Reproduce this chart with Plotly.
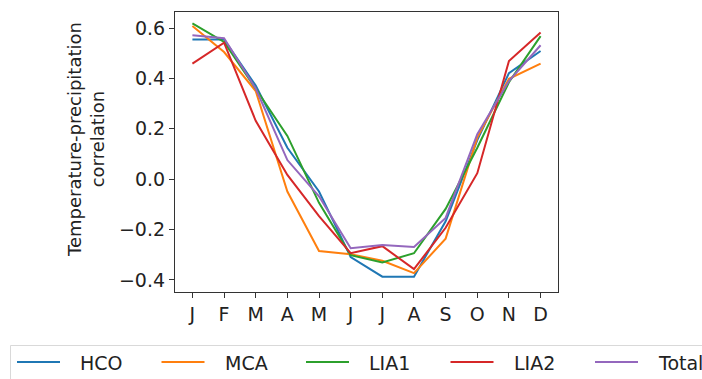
import plotly.graph_objects as go

months = ["J", "F", "M", "A", "M", "J", "J", "A", "S", "O", "N", "D"]
hco = [0.555, 0.555, 0.372, 0.125, -0.049, -0.309, -0.387, -0.387, -0.167, 0.155, 0.421, 0.509]
mca = [0.608, 0.505, 0.350, -0.049, -0.285, -0.298, -0.324, -0.373, -0.236, 0.165, 0.399, 0.459]
lia1 = [0.619, 0.545, 0.359, 0.172, -0.094, -0.302, -0.331, -0.294, -0.118, 0.125, 0.385, 0.568]
lia2 = [0.459, 0.542, 0.232, 0.017, -0.147, -0.294, -0.266, -0.357, -0.193, 0.024, 0.469, 0.583]
total = [0.572, 0.560, 0.360, 0.076, -0.068, -0.274, -0.261, -0.269, -0.154, 0.179, 0.390, 0.532]

series = [("HCO", hco, "#1f77b4"), ("MCA", mca, "#ff7f0e"), ("LIA1", lia1, "#2ca02c"),
          ("LIA2", lia2, "#d62728"), ("Total", total, "#9467bd")]

W, H = 702, 379
ML, MR, MT, MB = 175, 144, 12, 87
PW, PH = W - ML - MR, H - MT - MB


def px_x(p):
    return (p - ML) / PW


def px_y(p):
    return (H - MB - p) / PH


x = list(range(len(months)))
fig = go.Figure()
for name, vals, col in series:
    fig.add_trace(go.Scatter(x=x, y=vals, mode="lines", name=name,
                             line=dict(color=col, width=2), showlegend=False))

axis_common = dict(showline=True, linecolor="#333", linewidth=1.2, mirror=True,
                   ticks="outside", ticklen=5, tickcolor="#333", showgrid=False,
                   zeroline=False, tickfont=dict(size=19, color="#222"))
fig.update_xaxes(range=[-0.55, 11.55], tickvals=x, ticktext=months, **axis_common)
fig.update_yaxes(range=[-0.448, 0.664], tickvals=[-0.4, -0.2, 0.0, 0.2, 0.4, 0.6],
                 tickformat=".1f", **axis_common)

fig.add_annotation(text="Temperature-precipitation<br>correlation", textangle=-90,
                   xref="paper", yref="paper", x=px_x(86), y=px_y(140),
                   xanchor="center", yanchor="middle", showarrow=False,
                   font=dict(size=18, color="#222"))

# legend box (extends past the right/bottom edge like the reference)
fig.add_shape(type="rect", xref="paper", yref="paper",
              x0=px_x(10.5), x1=px_x(720), y0=px_y(345.5), y1=px_y(400),
              line=dict(color="#d9d9d9", width=1), fillcolor="rgba(255,255,255,0.8)",
              layer="above")
legend_step = 144.5
for i, (name, vals, col) in enumerate(series):
    x0 = 17 + i * legend_step
    fig.add_shape(type="line", xref="paper", yref="paper",
                  x0=px_x(x0), x1=px_x(x0 + 43), y0=px_y(362), y1=px_y(362),
                  line=dict(color=col, width=2), layer="above")
    fig.add_annotation(text=name, xref="paper", yref="paper",
                       x=px_x(x0 + 61), y=px_y(363), xanchor="left", yanchor="middle",
                       showarrow=False, font=dict(size=19, color="#222"))

fig.update_layout(
    width=W, height=H,
    margin=dict(l=ML, r=MR, t=MT, b=MB, autoexpand=False),
    plot_bgcolor="white", paper_bgcolor="white",
    font=dict(family="DejaVu Sans", size=18, color="#222"),
    showlegend=False,
)
fig.write_html("out.html")
